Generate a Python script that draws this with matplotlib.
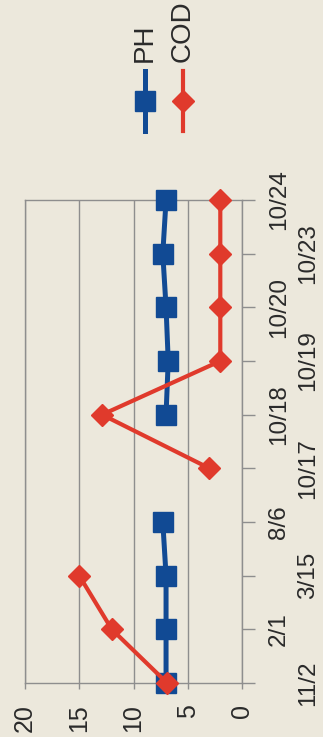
import numpy as np
import matplotlib.pyplot as plt
from matplotlib.lines import Line2D

plt.rcParams['font.family'] = ['Liberation Sans', 'DejaVu Sans']

dates = ["11/2", "2/1", "3/15", "8/6", "10/17", "10/18", "10/19", "10/20", "10/23", "10/24"]
ph = [7.0, 7.0, 7.0, 7.3, np.nan, 7.0, 6.8, 7.0, 7.3, 7.0]
cod = [6.9, 12.0, 15.0, np.nan, 3.0, 12.9, 2.0, 2.0, 2.0, 2.0]
value_ticks = [0, 5, 10, 15, 20]

blue = "#114a94"
red = "#e03a2c"
paper = "#ece8dc"
grid = "#8e8e8e"
ink = "#2a2a2a"

W, H = 323, 737
fig = plt.figure(figsize=(W / 100, H / 100), dpi=100)
fig.patch.set_facecolor(paper)

# axes in pixel box: x 25..242, y 200..683 (image coords)
ax = fig.add_axes([25 / W, (H - 683) / H, 217 / W, 483 / H])
ax.set_facecolor(paper)

pos = np.arange(len(dates))
ax.plot(ph, pos, color=blue, lw=3.6, marker="s", ms=14, mec=blue, mfc=blue,
        zorder=3, clip_on=False)
ax.plot(cod, pos, color=red, lw=3.0, marker="D", ms=11, mec=red, mfc=red,
        zorder=4, clip_on=False)

ax.set_xlim(20, 0)
ax.set_ylim(0, len(dates) - 1)

ax.set_xticks(value_ticks)
ax.set_xticklabels([str(v) for v in value_ticks], rotation=90, fontsize=18,
                   color=ink)
ax.tick_params(axis="x", direction="out", length=4, width=1, color=grid, pad=11)
ax.grid(axis="x", color=grid, lw=1)

# category axis on the right, labels staggered in two rows
ax.yaxis.tick_right()
ax.set_yticks(pos[0::2])
ax.set_yticklabels(dates[0::2], rotation=90, fontsize=17.5, color=ink,
                   va="center")
ax.set_yticks(pos[1::2], minor=True)
ax.set_yticklabels(dates[1::2], minor=True, rotation=90, fontsize=17.5,
                   color=ink, va="center")
ax.tick_params(axis="y", which="both", direction="out", length=9.5, width=1,
               color=grid)
ax.tick_params(axis="y", which="major", pad=30)
ax.tick_params(axis="y", which="minor", pad=9)

for s in ax.spines.values():
    s.set_color(grid)
    s.set_linewidth(1)

# legend, drawn rotated to match the page
def legend_entry(xpx, label, color, marker, ms, lw):
    x = xpx / W
    fig.add_artist(Line2D([x, x], [(H - 131) / H, (H - 71) / H], color=color,
                          lw=lw, transform=fig.transFigure))
    fig.add_artist(Line2D([x], [(H - 101) / H], color=color, marker=marker,
                          ms=ms, mec=color, mfc=color, transform=fig.transFigure))
    fig.text(x, (H - 62) / H, label, rotation=90, rotation_mode="anchor",
             ha="left", va="center", fontsize=20, color=ink)

legend_entry(145, "PH", blue, "s", 14, 3.6)
legend_entry(183, "COD", red, "D", 11, 3.0)

fig.savefig("out.png", dpi=100, facecolor=paper)
